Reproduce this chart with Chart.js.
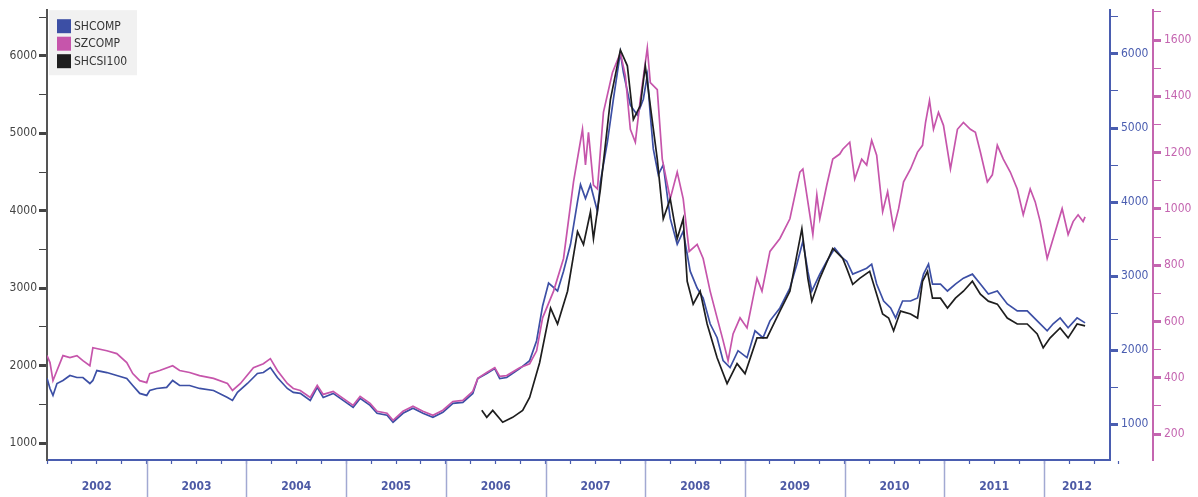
<!DOCTYPE html>
<html>
<head>
<meta charset="utf-8">
<script src="https://cdn.jsdelivr.net/npm/chart.js@4.4.1/dist/chart.umd.min.js"></script>
<style>
  html, body { margin: 0; padding: 0; background: #fff; }
  #wrap { width: 1198px; height: 497px; position: relative; }
</style>
</head>
<body>
<div id="wrap"><canvas id="chart"></canvas></div>
<script>
// x values are decimal years
const yearLabels = ['2002', '2003', '2004', '2005', '2006', '2007', '2008', '2009', '2010', '2011', '2012'];

const shcompDates = [
  2002.00, 2002.03, 2002.06, 2002.10, 2002.16, 2002.23, 2002.30, 2002.36, 2002.43, 2002.46,
  2002.50, 2002.60, 2002.70, 2002.80, 2002.86, 2002.93, 2003.00, 2003.03, 2003.10, 2003.20,
  2003.26, 2003.33, 2003.43, 2003.53, 2003.67, 2003.81, 2003.86, 2003.91, 2004.01, 2004.11,
  2004.17, 2004.24, 2004.31, 2004.41, 2004.47, 2004.54, 2004.64, 2004.71, 2004.77, 2004.87,
  2004.97, 2005.07, 2005.14, 2005.24, 2005.31, 2005.41, 2005.47, 2005.57, 2005.67, 2005.77,
  2005.87, 2005.97, 2006.07, 2006.17, 2006.27, 2006.32, 2006.41, 2006.49, 2006.54, 2006.61,
  2006.74, 2006.84, 2006.91, 2006.97, 2007.03, 2007.12, 2007.18, 2007.25, 2007.32, 2007.35,
  2007.40, 2007.45, 2007.52, 2007.55, 2007.62, 2007.68, 2007.75, 2007.78, 2007.85, 2007.92,
  2007.98, 2008.02, 2008.05, 2008.08, 2008.13, 2008.18, 2008.25, 2008.32, 2008.38, 2008.45,
  2008.52, 2008.58, 2008.65, 2008.72, 2008.78, 2008.85, 2008.93, 2009.02, 2009.10, 2009.18,
  2009.25, 2009.35, 2009.45, 2009.52, 2009.58, 2009.63, 2009.67, 2009.75, 2009.82, 2009.90,
  2009.98, 2010.02, 2010.08, 2010.15, 2010.22, 2010.27, 2010.32, 2010.39, 2010.46, 2010.51,
  2010.58, 2010.66, 2010.73, 2010.79, 2010.84, 2010.88, 2010.96, 2011.03, 2011.11, 2011.19,
  2011.28, 2011.36, 2011.44, 2011.53, 2011.63, 2011.73, 2011.83, 2011.93, 2012.03, 2012.09,
  2012.16, 2012.24, 2012.33, 2012.41
];
const shcompValues = [
  1620, 1483, 1389, 1550, 1591, 1658, 1631, 1631, 1550, 1591,
  1725, 1698, 1658, 1617, 1523, 1416, 1389, 1456, 1483, 1497,
  1591, 1523, 1523, 1483, 1456, 1362, 1322, 1430, 1550, 1685,
  1698, 1765, 1631, 1483, 1430, 1416, 1322, 1497, 1362, 1416,
  1322, 1228, 1349, 1255, 1148, 1121, 1027, 1148, 1215, 1148,
  1094, 1161, 1282, 1295, 1416, 1617, 1685, 1752, 1617, 1631,
  1752, 1859, 2128, 2597, 2906, 2799, 3067, 3430, 4007, 4235,
  4047, 4235, 3873, 4275, 4812, 5389, 6020, 5752, 5309, 5175,
  5389, 5711, 5175, 4718, 4369, 4503, 3779, 3430, 3604, 3067,
  2839, 2705, 2356, 2168, 1859, 1765, 1993, 1899, 2262, 2168,
  2396, 2570, 2839, 3161, 3470, 3067, 2799, 3027, 3201, 3376,
  3242, 3201, 3027, 3067, 3107, 3161, 2893, 2664, 2570, 2436,
  2664, 2664, 2705, 3027, 3161, 2893, 2893, 2799, 2893, 2973,
  3027, 2893, 2758, 2799, 2624, 2530, 2530, 2396, 2262, 2356,
  2436, 2302, 2436, 2369
];

const szcompDates = [
  2002.00, 2002.03, 2002.06, 2002.10, 2002.16, 2002.23, 2002.30, 2002.36, 2002.43, 2002.46,
  2002.60, 2002.70, 2002.80, 2002.86, 2002.93, 2003.00, 2003.03, 2003.13, 2003.26, 2003.33,
  2003.43, 2003.53, 2003.67, 2003.81, 2003.86, 2003.94, 2004.07, 2004.17, 2004.24, 2004.31,
  2004.41, 2004.47, 2004.54, 2004.64, 2004.71, 2004.77, 2004.87, 2004.97, 2005.07, 2005.14,
  2005.24, 2005.31, 2005.41, 2005.47, 2005.57, 2005.67, 2005.77, 2005.87, 2005.97, 2006.07,
  2006.17, 2006.27, 2006.32, 2006.41, 2006.49, 2006.54, 2006.61, 2006.74, 2006.84, 2006.91,
  2006.97, 2007.08, 2007.18, 2007.28, 2007.37, 2007.40, 2007.43, 2007.48, 2007.52, 2007.58,
  2007.67, 2007.75, 2007.80, 2007.85, 2007.90, 2007.95, 2008.02, 2008.05, 2008.12, 2008.17,
  2008.25, 2008.32, 2008.38, 2008.44, 2008.52, 2008.58, 2008.65, 2008.72, 2008.78, 2008.83,
  2008.88, 2008.95, 2009.02, 2009.12, 2009.17, 2009.25, 2009.35, 2009.45, 2009.55, 2009.58,
  2009.65, 2009.68, 2009.72, 2009.75, 2009.82, 2009.88, 2009.95, 2009.98, 2010.05, 2010.10,
  2010.17, 2010.22, 2010.27, 2010.32, 2010.38, 2010.43, 2010.49, 2010.54, 2010.59, 2010.66,
  2010.73, 2010.78, 2010.81, 2010.85, 2010.89, 2010.94, 2010.99, 2011.06, 2011.13, 2011.19,
  2011.26, 2011.31, 2011.36, 2011.43, 2011.48, 2011.53, 2011.59, 2011.66, 2011.73, 2011.79,
  2011.86, 2011.91, 2011.96, 2012.03, 2012.09, 2012.18, 2012.24, 2012.29, 2012.34, 2012.39,
  2012.41
];
const szcompValues = [
  479, 454, 390, 426, 479, 472, 479, 461, 443, 507,
  496, 486, 454, 415, 390, 383, 415, 426, 443, 426,
  419, 408, 398, 380, 355, 380, 436, 450, 468, 426,
  380, 362, 355, 330, 373, 341, 352, 327, 302, 334,
  309, 281, 274, 249, 281, 299, 281, 267, 285, 316,
  320, 352, 398, 419, 436, 405, 408, 436, 450, 496,
  613, 708, 824, 1096, 1283, 1156, 1272, 1085, 1071, 1343,
  1484, 1554, 1473, 1283, 1237, 1389, 1572, 1449, 1424, 1177,
  1036, 1131, 1036, 849, 874, 824, 708, 613, 532, 461,
  556, 613, 577, 754, 708, 849, 895, 965, 1131, 1142,
  979, 909, 1050, 965, 1085, 1177, 1195, 1212, 1237, 1106,
  1177, 1156, 1244, 1191, 990, 1061, 930, 1001, 1096, 1142,
  1202, 1226, 1307, 1385, 1283, 1343, 1297, 1142, 1283, 1307,
  1283, 1272, 1202, 1096, 1121, 1226, 1177, 1131, 1071, 979,
  1071, 1025, 955, 824, 895, 1001, 909, 955, 979, 955,
  972
];

const shcsiDates = [
  2006.36, 2006.41, 2006.47, 2006.57, 2006.67, 2006.77, 2006.84, 2006.94, 2007.05, 2007.12,
  2007.22, 2007.32, 2007.38, 2007.45, 2007.48, 2007.55, 2007.65, 2007.75, 2007.82, 2007.88,
  2007.95, 2008.00, 2008.05, 2008.12, 2008.18, 2008.25, 2008.32, 2008.38, 2008.42, 2008.48,
  2008.55, 2008.62, 2008.72, 2008.82, 2008.92, 2009.00, 2009.12, 2009.22, 2009.35, 2009.45,
  2009.57, 2009.63, 2009.67, 2009.75, 2009.88, 2009.98, 2010.02, 2010.08, 2010.15, 2010.25,
  2010.32, 2010.38, 2010.44, 2010.49, 2010.56, 2010.66, 2010.73, 2010.78, 2010.83, 2010.88,
  2010.96, 2011.03, 2011.11, 2011.19, 2011.28, 2011.36, 2011.44, 2011.53, 2011.63, 2011.73,
  2011.83, 2011.93, 2011.99, 2012.06, 2012.16, 2012.24, 2012.33, 2012.41
];
const shcsiValues = [
  1423, 1333, 1423, 1269, 1333, 1423, 1590, 2038, 2744, 2538,
  2961, 3731, 3564, 3987, 3641, 4282, 5436, 6077, 5872, 5179,
  5359, 5872, 5359, 4667, 3897, 4154, 3641, 3897, 3090, 2795,
  2961, 2538, 2103, 1769, 2026, 1897, 2359, 2359, 2705, 2961,
  3769, 3128, 2833, 3128, 3513, 3385, 3256, 3051, 3128, 3218,
  2923, 2667, 2615, 2449, 2705, 2667, 2615, 3090, 3218, 2872,
  2872, 2744, 2872, 2961, 3090, 2923, 2833, 2795, 2615, 2538,
  2538, 2410, 2231, 2359, 2487, 2359, 2538, 2513
];

const toPoints = (xs, ys) => xs.map((x, i) => ({ x: x, y: ys[i] }));

const quarterTicks = [];
yearLabels.forEach(y => { [0, 0.25, 0.5, 0.75].forEach(q => quarterTicks.push(+y + q)); });

const stepTicks = (from, to, step) => {
  const out = [];
  for (let v = from; v <= to + 1e-9; v += step) out.push({ value: v });
  return out;
};

const FONT = 'DejaVu Sans Condensed';
const BLUE = '#3c4fa5';
const PINK = '#c655ab';
const BLACK = '#1e1e1e';

// year bands under the x axis
const yearBands = {
  id: 'yearBands',
  afterDraw(chart) {
    const xs = chart.scales.x;
    const ctx = chart.ctx;
    ctx.save();
    ctx.strokeStyle = '#a2a9d2';
    ctx.lineWidth = 1.5;
    ctx.fillStyle = '#4d5aa5';
    ctx.font = 'bold 12px "' + FONT + '"';
    ctx.textAlign = 'center';
    ctx.textBaseline = 'middle';
    yearLabels.forEach((lab, i) => {
      const a = Math.max(xs.getPixelForValue(+lab), xs.left);
      const b = Math.min(xs.getPixelForValue(+lab + 1), xs.right);
      if (i > 0) {
        ctx.beginPath();
        ctx.moveTo(Math.round(a) + 0.5, xs.top + 1);
        ctx.lineTo(Math.round(a) + 0.5, chart.height);
        ctx.stroke();
      }
      ctx.fillText(lab, (a + b) / 2, xs.top + 27);
    });
    ctx.restore();
  }
};

// legend box in the top-left corner
const legendBox = {
  id: 'legendBox',
  afterDraw(chart) {
    const ctx = chart.ctx;
    const left = chart.chartArea.left + 2;
    const top = chart.chartArea.top;
    ctx.save();
    ctx.fillStyle = '#f1f1f1';
    ctx.fillRect(left, top, 88, 65);
    ctx.font = '12px "' + FONT + '"';
    ctx.textBaseline = 'middle';
    chart.data.datasets.forEach((ds, i) => {
      const y = top + 9 + i * 17.5;
      ctx.fillStyle = ds.borderColor;
      ctx.fillRect(left + 8, y, 14, 14);
      ctx.fillStyle = '#333';
      ctx.fillText(ds.label, left + 25, y + 7.5);
    });
    ctx.restore();
  }
};

new Chart(document.getElementById('chart'), {
  type: 'line',
  data: {
    datasets: [
      { label: 'SHCOMP', data: toPoints(shcompDates, shcompValues), yAxisID: 'yB',
        borderColor: BLUE, backgroundColor: BLUE, borderWidth: 1.7, pointRadius: 0, order: 3 },
      { label: 'SZCOMP', data: toPoints(szcompDates, szcompValues), yAxisID: 'yP',
        borderColor: PINK, backgroundColor: PINK, borderWidth: 1.7, pointRadius: 0, order: 2 },
      { label: 'SHCSI100', data: toPoints(shcsiDates, shcsiValues), yAxisID: 'yL',
        borderColor: BLACK, backgroundColor: BLACK, borderWidth: 1.7, pointRadius: 0, order: 1 }
    ]
  },
  options: {
    responsive: true,
    maintainAspectRatio: false,
    animation: false,
    layout: { padding: { top: 7, left: 0, right: 0, bottom: 0 } },
    plugins: { legend: { display: false }, tooltip: { enabled: false } },
    scales: {
      x: {
        type: 'linear',
        position: 'bottom',
        min: 2002,
        max: 2012.66,
        afterBuildTicks: s => { s.ticks = quarterTicks.map(v => ({ value: v })); },
        afterFit: s => { s.height = 37; },
        ticks: { display: false },
        grid: { drawOnChartArea: false, tickLength: 4, tickColor: '#4a5db0', tickWidth: 1.2 },
        border: { color: '#4a5db0', width: 2 }
      },
      yL: {
        type: 'linear',
        position: 'left',
        min: 782,
        max: 6590,
        afterBuildTicks: s => { s.ticks = stepTicks(1000, 6500, 500); },
        afterFit: s => { s.width = 47; },
        ticks: {
          color: '#444',
          padding: 2,
          font: { family: FONT, size: 12 },
          callback: v => (v % 1000 === 0 ? String(v) : '')
        },
        grid: {
          drawOnChartArea: false, tickLength: 8, tickColor: '#444',
          tickWidth: c => (c.tick && c.tick.value % 1000 === 0 ? 3 : 1)
        },
        border: { color: '#555', width: 2 }
      },
      yB: {
        type: 'linear',
        position: 'right',
        min: 517,
        max: 6591,
        afterBuildTicks: s => { s.ticks = stepTicks(1000, 6500, 500); },
        afterFit: s => { s.width = 43; },
        ticks: {
          color: '#4a5db0',
          padding: 3,
          font: { family: FONT, size: 12 },
          callback: v => (v % 1000 === 0 ? String(v) : '')
        },
        grid: {
          drawOnChartArea: false, tickLength: 8, tickColor: '#4a5db0',
          tickWidth: c => (c.tick && c.tick.value % 1000 === 0 ? 3 : 1)
        },
        border: { color: '#4a5db0', width: 2 }
      },
      yP: {
        type: 'linear',
        position: 'right',
        min: 108,
        max: 1706,
        afterBuildTicks: s => { s.ticks = stepTicks(200, 1700, 100); },
        afterFit: s => { s.width = 45; },
        ticks: {
          color: '#c465b0',
          padding: 3,
          font: { family: FONT, size: 12 },
          callback: v => (v % 200 === 0 ? String(v) : '')
        },
        grid: {
          drawOnChartArea: false, tickLength: 8, tickColor: '#c465b0',
          tickWidth: c => (c.tick && c.tick.value % 200 === 0 ? 3 : 1)
        },
        border: { color: '#c465b0', width: 2 }
      }
    }
  },
  plugins: [yearBands, legendBox]
});
</script>
</body>
</html>
